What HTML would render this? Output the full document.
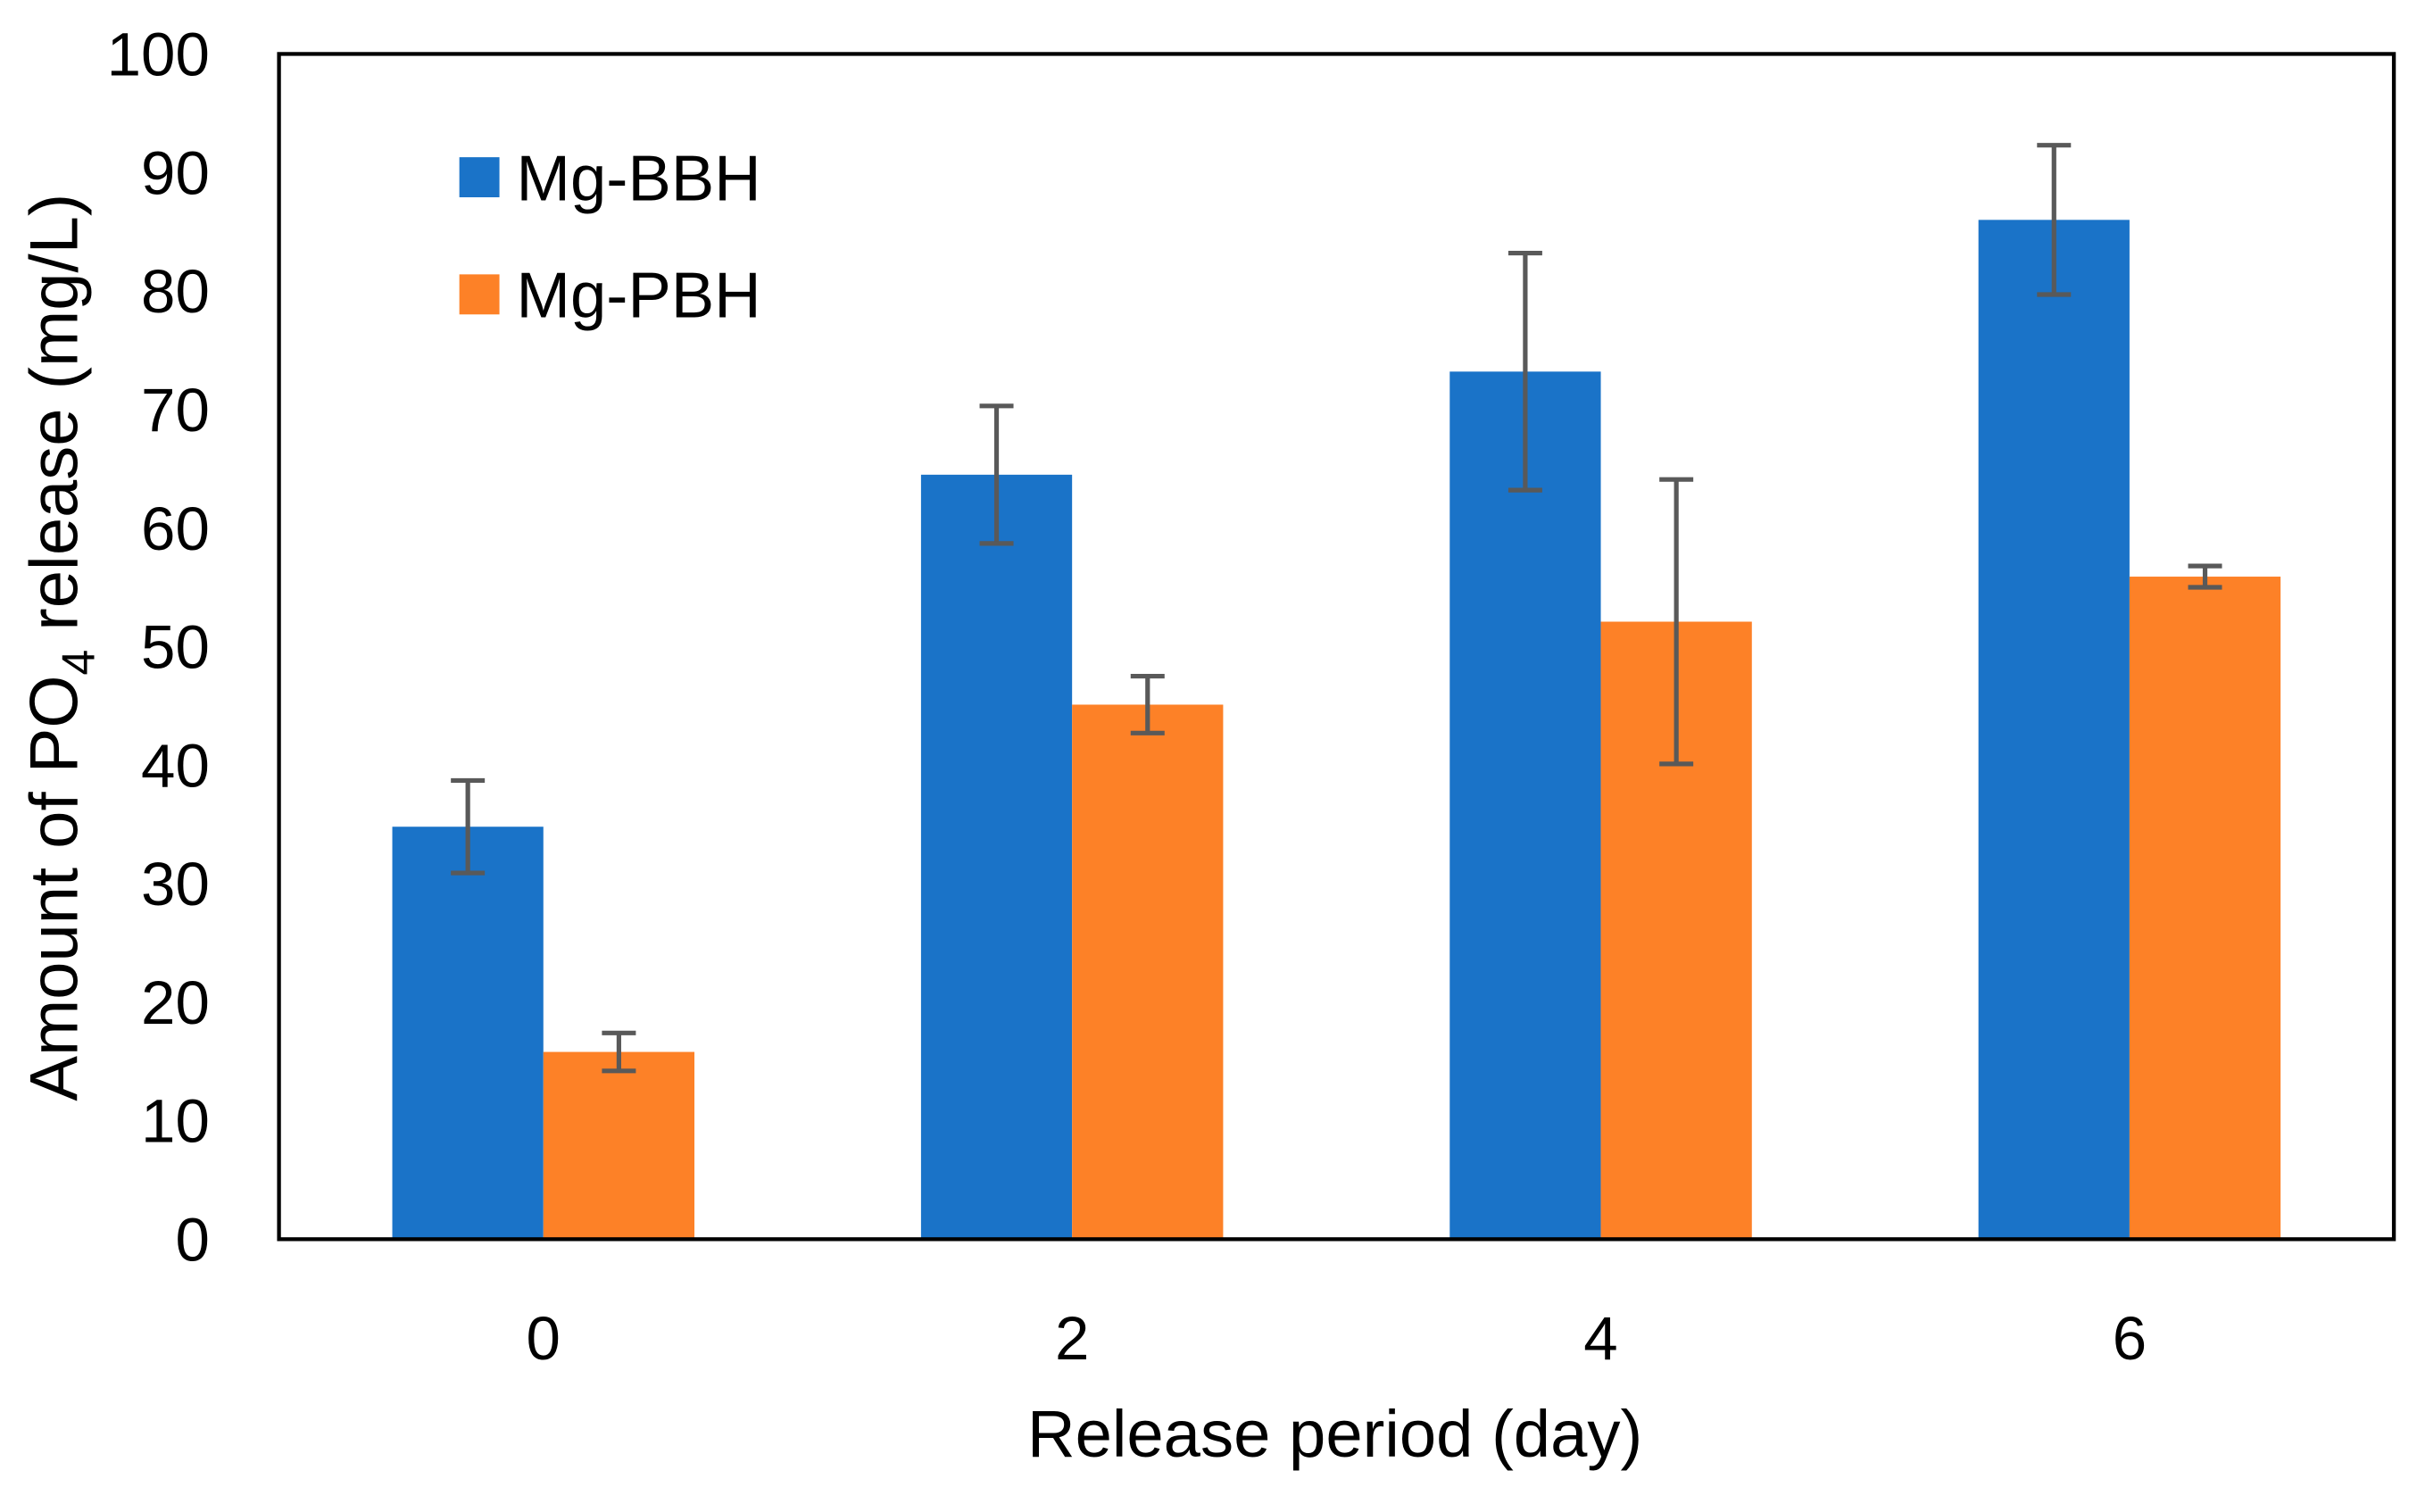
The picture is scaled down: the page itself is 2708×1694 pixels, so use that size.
<!DOCTYPE html>
<html><head><meta charset="utf-8"><style>
html,body{margin:0;padding:0;background:#fff;}
svg{display:block;font-family:"Liberation Sans",Calibri,sans-serif;}
</style></head><body>
<svg id="chart" width="2708" height="1694" viewBox="0 0 1568 981" preserveAspectRatio="none" xmlns="http://www.w3.org/2000/svg">
<g id="ticks"></g>
<g id="bars"></g>
<rect x="181" y="35" width="1372" height="769" fill="none" stroke="#000" stroke-width="2.5"/>
<g id="xt"></g>
<text x="866" y="945" font-size="43" text-anchor="middle">Release period (day)</text>
<text transform="translate(50,420) rotate(-90)" font-size="44" text-anchor="middle">Amount of PO<tspan font-size="30" dy="11">4</tspan><tspan dy="-11"> release (mg/L)</tspan></text>
<g>
<rect x="298" y="102" width="26" height="26" fill="#1a73c8"/>
<text x="335" y="130" font-size="42">Mg-BBH</text>
<rect x="298" y="178" width="26" height="26" fill="#fd8127"/>
<text x="335" y="206" font-size="42">Mg-PBH</text>
</g>
</svg>
<script>
const categories=["0","2","4","6"];
const bbhValues=[34.8,64.5,73.2,86.0];
const bbhErrors=[3.9,5.8,10.0,6.3];
const pbhValues=[15.8,45.1,52.1,55.9];
const pbhErrors=[1.6,2.4,12.0,0.9];
const yTicks=[0,10,20,30,40,50,60,70,80,90,100];
const NS="http://www.w3.org/2000/svg";
const y0=804,y1=35,left=181,right=1553;
function y(v){return y0-(v/100)*(y0-y1);}
function cx(i){const w=(right-left)/categories.length;return left+w*(i+0.5);}
function mk(tag,attrs,parent){const e=document.createElementNS(NS,tag);for(const k in attrs)e.setAttribute(k,attrs[k]);parent.appendChild(e);return e;}
const ticks=document.getElementById('ticks');
yTicks.forEach(t=>{const e=mk('text',{x:136,y:y(t)+14,'font-size':40,'text-anchor':'end'},ticks);


e.textContent=t;});
const xt=document.getElementById('xt');
categories.forEach((c,i)=>{const e=mk('text',{x:cx(i),y:882,'font-size':40,'text-anchor':'middle'},xt);


e.textContent=c;});
const bars=document.getElementById('bars');
const bw=98;
function series(vals,errs,off,color,name){vals.forEach((v,i)=>{
const x=cx(i)+off;
const r=mk('rect',{x:x,y:y(v),width:bw,height:y0-y(v),fill:color},bars);


const m=x+bw/2,hi=y(v+errs[i]),lo=y(v-errs[i]);
const g=mk('g',{stroke:'#595959','stroke-width':3},bars);


mk('line',{x1:m,x2:m,y1:hi,y2:lo},g);
mk('line',{x1:m-11,x2:m+11,y1:hi,y2:hi},g);
mk('line',{x1:m-11,x2:m+11,y1:lo,y2:lo},g);
});}
series(bbhValues,bbhErrors,-bw,'#1a73c8','mg-bbh');
series(pbhValues,pbhErrors,0,'#fd8127','mg-pbh');
</script>
</body></html>
